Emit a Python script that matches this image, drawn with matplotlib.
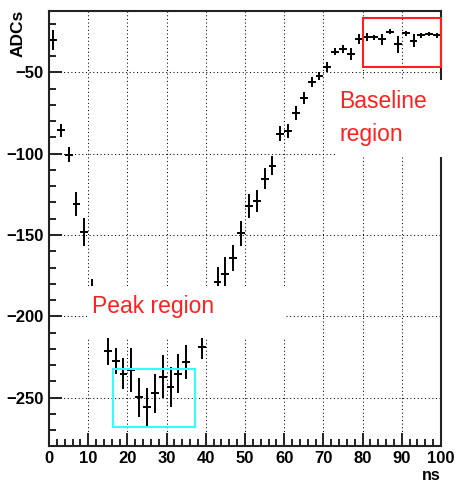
import matplotlib
matplotlib.use("Agg")
import matplotlib.pyplot as plt
from matplotlib.patches import Rectangle
from matplotlib.ticker import MultipleLocator

# Pulse samples: bin centres (ns), mean ADC value and its uncertainty
time_ns = [1, 3, 5, 7, 9, 11, 15, 17, 19, 21, 23, 25, 27, 29, 31, 33, 35, 39,
           43, 45, 47, 49, 51, 53, 55, 57, 59, 61, 63, 65, 67, 69, 71, 73, 75,
           77, 79, 81, 83, 85, 87, 89, 91, 93, 95, 97, 99]
adc = [-30.0, -85.5, -100.6, -131.0, -148.0, -187.0, -221.0, -227.4, -235.2,
       -233.0, -249.6, -255.8, -247.4, -237.0, -243.4, -235.2, -228.2, -219.0,
       -178.7, -174.0, -164.4, -148.8, -132.2, -129.0, -115.5, -107.3, -87.6,
       -85.8, -75.0, -65.8, -55.8, -52.3, -46.9, -37.3, -35.9, -38.9, -29.6,
       -28.1, -28.5, -29.7, -25.0, -32.8, -26.0, -30.5, -27.1, -26.5, -27.1]
adc_err = [6.1, 4.0, 4.6, 7.2, 8.7, 10.0, 9.2, 8.2, 9.7, 13.3, 12.0, 11.7,
           11.7, 13.2, 12.3, 12.0, 10.5, 7.2, 9.0, 10.5, 8.0, 7.7, 7.3, 6.7,
           6.5, 5.8, 4.6, 4.3, 4.1, 3.6, 3.0, 2.4, 3.0, 2.0, 2.5, 3.6, 3.0,
           2.5, 1.5, 3.3, 1.5, 5.1, 1.4, 4.0, 1.5, 1.0, 1.5]
bin_half_width = 1.0

# Analysis windows (ns range, ADC range)
peak_window = (16.2, 37.2, -267.8, -232.5)
baseline_window = (80.0, 100.0, -46.6, -16.4)

plt.rcParams['font.family'] = ['Liberation Sans', 'DejaVu Sans']

fig = plt.figure(figsize=(4.57, 4.86), dpi=100)
ax = fig.add_axes([49 / 457, 1 - 445.7 / 486, 392 / 457, 434.7 / 486])

ax.set_xlim(0, 100)
ax.set_ylim(-279.5, -12.3)

ax.errorbar(time_ns, adc, xerr=bin_half_width, yerr=adc_err, fmt='none',
            ecolor='black', elinewidth=1.4, capsize=0, zorder=2)

# window boxes
x0, x1, y0, y1 = peak_window
ax.add_patch(Rectangle((x0, y0), x1 - x0, y1 - y0, fill=False,
                       edgecolor='#33ffff', lw=1.5, zorder=3))
x0, x1, y0, y1 = baseline_window
ax.add_patch(Rectangle((x0, y0), x1 - x0, y1 - y0, fill=False,
                       edgecolor='#ff2020', lw=1.5, zorder=3, clip_on=False))

# labels on white panes
ax.add_patch(Rectangle((10.0, -213.3), 50.2, 32.0, facecolor='white',
                       edgecolor='none', zorder=4))
ax.text(11.0, -198.1, 'Peak region', color='#ff2020', fontsize=16.5,
        ha='left', va='baseline', zorder=5)
ax.add_patch(Rectangle((73.2, -102.0), 35.0, 47.3, facecolor='white',
                       edgecolor='none', zorder=4, clip_on=False))
ax.text(74.0, -72.1, 'Baseline', color='#ff2020', fontsize=16.5,
        ha='left', va='baseline', zorder=5)
ax.text(74.0, -92.5, 'region', color='#ff2020', fontsize=16.5,
        ha='left', va='baseline', zorder=5)

# axes styling
ax.xaxis.set_major_locator(MultipleLocator(10))
ax.xaxis.set_minor_locator(MultipleLocator(2))
ax.yaxis.set_major_locator(MultipleLocator(50))
ax.yaxis.set_minor_locator(MultipleLocator(10))
ax.tick_params(which='both', direction='in', width=1.4, color='#222222',
               top=False, right=False)
ax.tick_params(which='major', length=9.4, labelsize=12, pad=4)
ax.tick_params(which='minor', length=5)
for lbl in ax.get_xticklabels() + ax.get_yticklabels():
    lbl.set_fontweight('bold')
for sp in ax.spines.values():
    sp.set_linewidth(1.5)
    sp.set_color('#222222')

ax.grid(True, which='major', color='black', lw=0.75, linestyle=(0, (1, 2.5)))
ax.set_axisbelow(True)

ax.text(-0.078, 1.002, 'ADCs', rotation=90, ha='center', va='top',
        fontsize=12.5, fontweight='bold', transform=ax.transAxes)
ax.text(0.998, -0.068, 'ns', ha='right', va='center', fontsize=11.5,
        fontweight='bold', transform=ax.transAxes)

fig.savefig('out.png', dpi=100)
